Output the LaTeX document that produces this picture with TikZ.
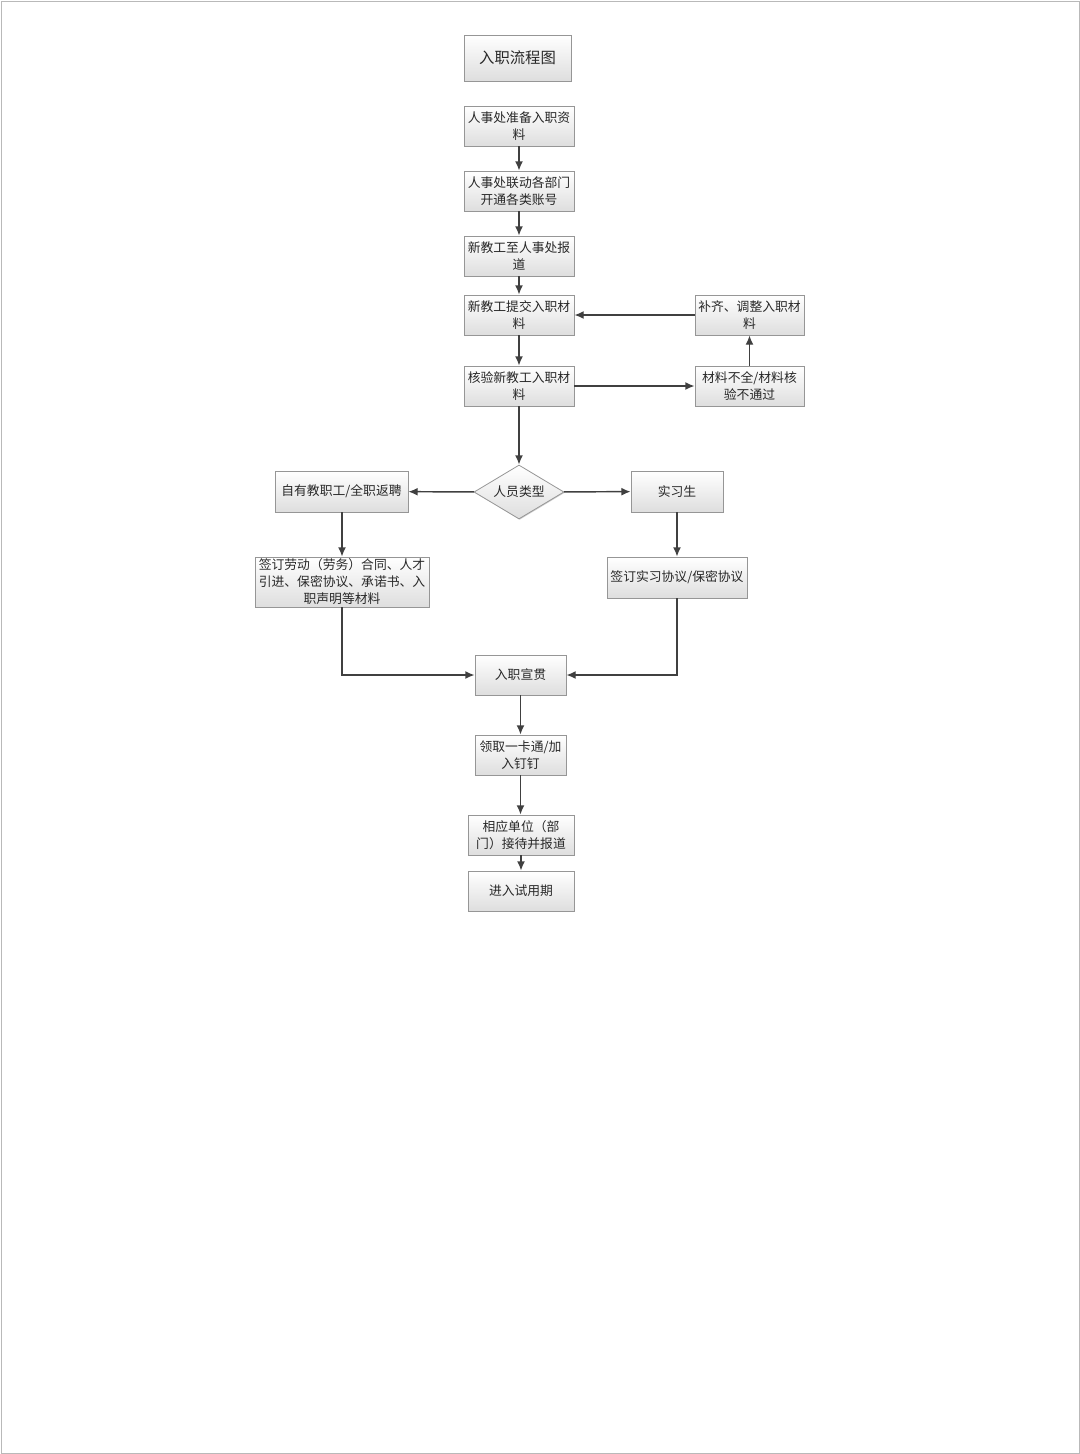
\documentclass[tikz,border=0pt]{standalone}
\usepackage{fontspec}
\newfontfamily\cjk{Noto Sans CJK SC}
\usetikzlibrary{arrows.meta,shapes.geometric,shadows}
\definecolor{boxline}{RGB}{150,150,150}
\definecolor{boxbot}{RGB}{222,222,222}
\definecolor{conn}{RGB}{64,64,64}
\definecolor{txt}{RGB}{40,40,40}
\begin{document}
\begin{tikzpicture}[x=0.75pt,y=-0.75pt,
  box/.style={draw=boxline,line width=0.6pt,top color=white,bottom color=boxbot,
    drop shadow={shadow xshift=0.6pt,shadow yshift=-0.6pt,fill=black,opacity=0.18},
    inner sep=0pt,align=center,text=txt,
    font=\cjk\fontsize{9.6}{12.75}\selectfont,minimum width=82.5pt,minimum height=30pt},
  dia/.style={box,diamond,aspect=1.67,minimum width=67.5pt,minimum height=40.5pt},
  arr/.style={draw=conn,line width=1.1pt,-{Latex[length=7pt,width=6pt]}}]
\useasboundingbox (0,0) rectangle (1080,1454);
\draw[gray!55,line width=0.6pt] (1,1) rectangle (1079,1453);
\node[box,minimum width=80.25pt,minimum height=34.5pt,font=\cjk\fontsize{11.5}{14}\selectfont] (title) at (517.5,58) {入职流程图};
\node[box] (b1) at (519,126) {人事处准备入职资\\料};
\node[box] (b2) at (519,191) {人事处联动各部门\\开通各类账号};
\node[box] (b3) at (519,256) {新教工至人事处报\\道};
\node[box] (b4) at (519,315) {新教工提交入职材\\料};
\node[box] (b5) at (519,386) {核验新教工入职材\\料};
\node[box,minimum width=81.75pt] (r1) at (749.5,315) {补齐、调整入职材\\料};
\node[box,minimum width=81.75pt] (r2) at (749.5,386) {材料不全/材料核\\验不通过};
\node[dia] (d) at (519,492) {人员类型};
\node[box,minimum width=99.75pt,minimum height=30.75pt] (l1) at (341.5,491.5) {自有教职工/全职返聘};
\node[box,minimum width=69pt,minimum height=30.75pt] (s1) at (677,491.5) {实习生};
\node[box,minimum width=130.5pt,minimum height=37.5pt] (l2) at (342,582) {签订劳动（劳务）合同、人才\\引进、保密协议、承诺书、入\\职声明等材料};
\node[box,minimum width=105pt,minimum height=30.75pt] (s2) at (677,577.5) {签订实习协议/保密协议};
\node[box,minimum width=68.25pt] (x1) at (520.5,675) {入职宣贯};
\node[box,minimum width=68.25pt] (x2) at (520.5,755) {领取一卡通/加\\入钉钉};
\node[box,minimum width=79.5pt] (x3) at (521,835) {相应单位（部\\门）接待并报道};
\node[box,minimum width=79.5pt] (x4) at (521,891) {进入试用期};
\draw[arr] (b1) -- (b2);
\draw[arr] (b2) -- (b3);
\draw[arr] (b3) -- (b4);
\draw[arr] (b4) -- (b5);
\draw[arr] (b5) -- (d);
\draw[arr] (b5) -- (r2);
\draw[arr] (r2) -- (r1);
\draw[arr] (r1) -- (b4);
\draw[arr] (d) -- (l1);
\draw[arr] (d) -- (s1);
\draw[arr] (l1.south -| l2.north) -- (l2.north);
\draw[arr] (s1) -- (s2);
\draw[arr] (l2.south) |- (x1.west);
\draw[arr] (s2.south) |- (x1.east);
\draw[arr] (x1.south) -- (x2.north);
\draw[arr] (x2.south) -- (x3.north -| x2.south);
\draw[arr] (x3) -- (x4);
\end{tikzpicture}
\end{document}
